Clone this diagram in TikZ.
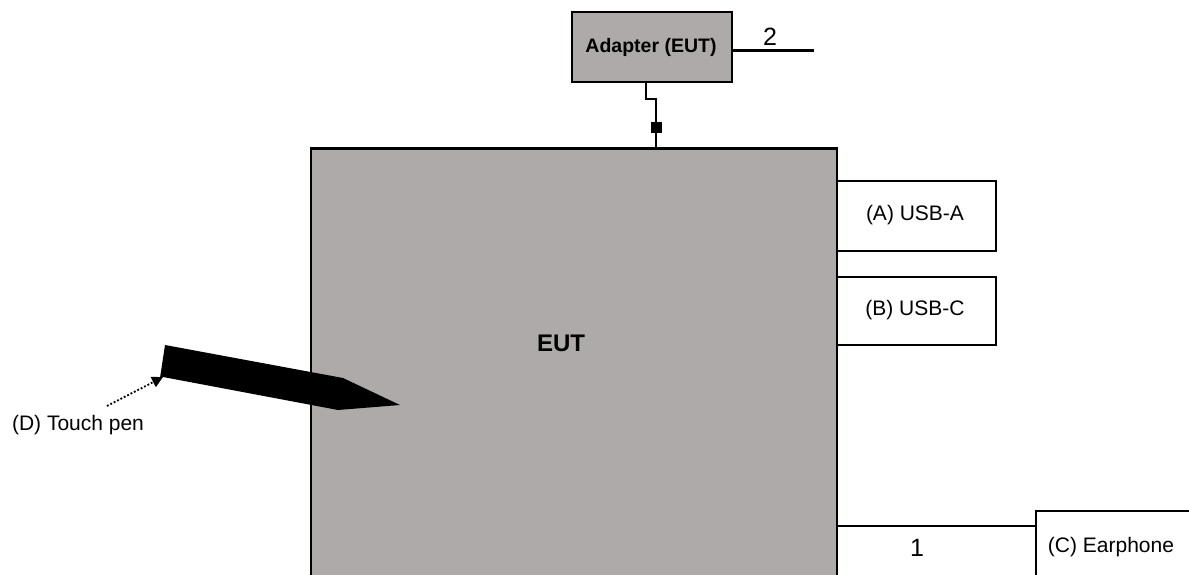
\documentclass[tikz,border=0pt]{standalone}
\usepackage{fontspec}
\setmainfont{Liberation Sans}
\usetikzlibrary{arrows.meta}
\definecolor{eutgray}{RGB}{174,170,169}
\begin{document}
\begin{tikzpicture}[x=1pt,y=-1pt,
  graybox/.style={draw=black, line width=2.6pt, fill=eutgray, inner sep=0pt},
  whitebox/.style={draw=black, line width=2pt, fill=white, inner sep=0pt},
  lbl/.style={font=\fontsize{21}{25}\selectfont, inner sep=0pt},
  digit/.style={font=\fontsize{25}{29}\selectfont, inner sep=0pt},
  cable/.style={line width=2.2pt}]
\useasboundingbox (0,0) rectangle (1189,575);
\begin{scope}
\clip (0,0) rectangle (1189,575);
% EUT
\node[graybox, minimum width=526pt, minimum height=460pt, anchor=north west] (eut) at (309.5,147.5) {};
\node[font=\bfseries\fontsize{24}{28}\selectfont] (eutl) at (561,343) {EUT};
% Adapter
\node[graybox, line width=2pt, minimum width=160pt, minimum height=70pt, anchor=north west] (adp) at (571,11) {};
\node[font=\bfseries\fontsize{19.5}{23}\selectfont] (adpl) at (651,47) {Adapter (EUT)};
% USB boxes
\node[whitebox, minimum width=159pt, minimum height=70pt, anchor=north west] (usba) at (836,180) {};
\node[lbl] at (915,215) {(A) USB-A};
\node[whitebox, minimum width=159pt, minimum height=68pt, anchor=north west] (usbc) at (836,276) {};
\node[lbl] at (915,310) {(B) USB-C};
% Earphone
\node[whitebox, minimum width=170pt, minimum height=90pt, anchor=north west] (ear) at (1035,510) {};
\node[lbl] at (1111,547) {(C) Earphone};
\coordinate (e1) at (836,526);
\coordinate (e2) at (1035,526);
\draw[line width=2pt] (e1) -- (e2);
\node[digit] (n1) at (917,548) {1};
% line 2
\coordinate (l2a) at (731,50.5);
\coordinate (l2b) at (814,50.5);
\draw[line width=3pt] (l2a) -- (l2b);
\node[digit] (n2) at (770,37) {2};
% adapter cable
\coordinate (c1) at (646,81);
\coordinate (c2) at (646,99);
\coordinate (c3) at (656,99);
\coordinate (c4) at (656,148);
\draw[cable] (c1) -- (c2) -- (c3) -- (c4);
\node[fill=black, minimum width=11pt, minimum height=11pt, inner sep=0pt] (sq) at (656,128) {};
% touch pen
\fill[black] (165,345) -- (343,378) -- (400,405) -- (338,410) -- (163,377) -- (160,378) -- cycle;
\coordinate (pa) at (107,406);
\coordinate (pb) at (163,377);
\draw[line width=1.8pt, dotted, -{Triangle[width=11pt,length=11pt]}] (pa) -- (pb);
\node[lbl] (pen) at (78,425) {(D) Touch pen};
\end{scope}
\end{tikzpicture}
\end{document}
